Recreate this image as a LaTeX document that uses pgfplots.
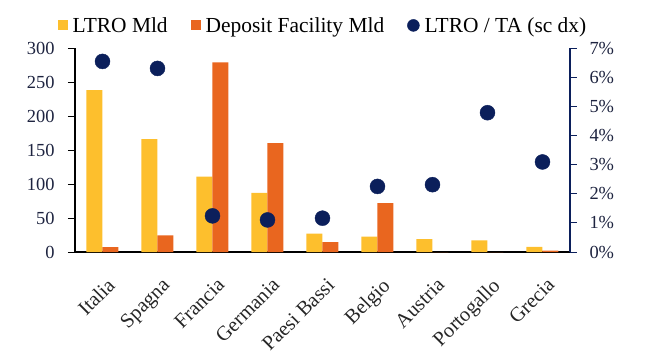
\documentclass[border=0pt]{standalone}
\usepackage{pgfplots}
\pgfplotsset{compat=1.18}
\usepackage{fontspec}
\setmainfont{Liberation Serif}
\definecolor{ltro}{HTML}{FDBF2D}
\definecolor{depo}{HTML}{E9661F}
\definecolor{navy}{HTML}{0B1F5B}
\definecolor{lab}{HTML}{1E2440}
\begin{document}
\begin{tikzpicture}
\useasboundingbox (-75bp,-105bp) rectangle (585bp,252bp);
\begin{axis}[
  at={(0,0)}, anchor=south west,
  scale only axis, width=495bp, height=204bp,
  xmin=-0.5, xmax=8.5, ymin=0, ymax=300,
  axis x line*=bottom, axis y line*=left,
  axis line style={black, line width=1.2pt},
  ytick={0,50,...,300},
  xtick={0,...,8},
  xticklabels={Italia,Spagna,Francia,Germania,Paesi Bassi,Belgio,Austria,Portogallo,Grecia},
  xticklabel style={rotate=45, anchor=north east, font=\fontsize{20.5}{24}\selectfont, color=black!85, inner sep=1pt, xshift=-9bp, yshift=-14bp},
  yticklabel style={font=\fontsize{18.5}{22}\selectfont, color=lab, xshift=-10bp},
  /pgf/number format/assume math mode=true,
  major x tick style={draw=none},
  tick align=outside, major tick length=7bp,
  major y tick style={black, line width=1pt},
  ybar=0pt, bar width=16bp,
  legend style={at={(0.5,1.055)}, anchor=south, draw=none, fill=none,
    legend columns=-1, font=\fontsize{21.5}{24}\selectfont,
    nodes={inner sep=1bp},
    /tikz/every odd column/.append style={column sep=4bp},
    /tikz/every even column/.append style={column sep=22bp}},
  legend cell align=left,
]
\addplot[fill=ltro, draw=none,
  legend image code/.code={\fill[ltro] (0bp,-5bp) rectangle (10bp,5bp);}]
  coordinates {(0,238) (1,166) (2,111) (3,87) (4,27) (5,22.5) (6,19) (7,17) (8,7.5)};
\addlegendentry{LTRO Mld}
\addplot[fill=depo, draw=none,
  legend image code/.code={\fill[depo] (0bp,-5bp) rectangle (10bp,5bp);}]
  coordinates {(0,7) (1,24.5) (2,279) (3,160) (4,14.5) (5,72) (6,0) (7,0) (8,2)};
\addlegendentry{Deposit Facility Mld}
\addlegendimage{legend image code/.code={\fill[navy] (6bp,0bp) circle (6bp);}}
\addlegendentry{LTRO / TA (sc dx)}
\end{axis}
\begin{axis}[
  at={(0,0)}, anchor=south west,
  scale only axis, width=495bp, height=204bp,
  xmin=-0.5, xmax=8.5, ymin=0, ymax=7,
  axis x line=none, axis y line*=right,
  axis line style={navy, line width=1.2pt},
  ytick={0,...,7},
  yticklabel={\pgfmathprintnumber{\tick}\%},
  yticklabel style={font=\fontsize{18.5}{22}\selectfont, color=lab, xshift=9bp},
  /pgf/number format/assume math mode=true,
  tick align=outside, major tick length=7bp,
  major y tick style={navy, line width=1pt},
]
\addplot[only marks, mark=*, mark size=7.5bp, navy]
  coordinates {(0,6.54) (1,6.3) (2,1.24) (3,1.1) (4,1.16) (5,2.25) (6,2.31) (7,4.78) (8,3.09)};
\end{axis}
\end{tikzpicture}
\end{document}
